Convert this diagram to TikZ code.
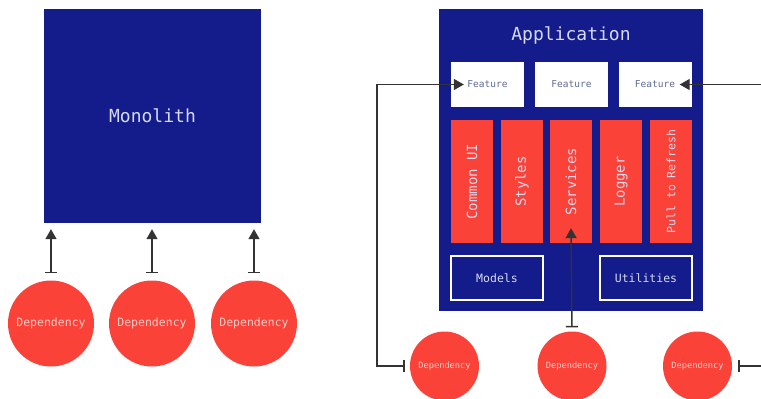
\documentclass[tikz,border=0pt]{standalone}
\usepackage{fontspec}
\setmonofont{DejaVu Sans Mono}
\usetikzlibrary{arrows.meta}
\definecolor{appblue}{RGB}{20,27,138}
\definecolor{deporange}{RGB}{250,66,56}
\definecolor{featuretext}{RGB}{95,105,150}
\definecolor{deptext}{RGB}{255,205,200}
\definecolor{boxtext}{RGB}{215,218,240}
\begin{document}
\begin{tikzpicture}[x=1pt, y=-1pt, every node/.append style={inner sep=0pt, font=\ttfamily},
		bigbox/.style={fill=appblue, text=boxtext, font=\ttfamily\fontsize{18}{20}\selectfont},
		feature/.style={fill=white, minimum width=73pt, minimum height=45pt, text=featuretext, font=\ttfamily\fontsize{9.5}{11}\selectfont},
		layer/.style={fill=deporange, rotate=90, minimum width=123pt, minimum height=42pt, text=boxtext, font=\ttfamily\fontsize{14}{16}\selectfont},
		basebox/.style={draw=white, line width=1.2pt, minimum width=92pt, minimum height=44pt, text=boxtext, font=\ttfamily\fontsize{11.5}{13}\selectfont},
		dep/.style={circle, fill=deporange, minimum size=86pt, text=deptext, font=\ttfamily\fontsize{11.5}{13}\selectfont},
		smalldep/.style={dep, minimum size=69pt, font=\ttfamily\fontsize{8.7}{10}\selectfont},
		depline/.style={line width=1.4pt, draw={black!80}, {Bar[width=12pt]}-{Triangle[width=11pt,length=10pt]}}]
	\useasboundingbox (0,0) rectangle (761,399);
	
	% monolith
	\node[bigbox, minimum width=217pt, minimum height=214pt] (mono) at (152.5,116) {Monolith};
	\node[dep] (d1) at (51,323.5) {Dependency};
	\node[dep] (d2) at (152,323.5) {Dependency};
	\node[dep] (d3) at (254,323.5) {Dependency};
	\foreach \d in {d1,d2,d3}
		\draw[depline, shorten <=7pt, shorten >=6pt] (\d.north) -- (\d.north |- mono.south);
	
	% application
	\node[fill=appblue, minimum width=264pt, minimum height=302pt] (app) at (571,160) {};
	\node[text=boxtext, font=\ttfamily\fontsize{18}{20}\selectfont] (apptitle) at (571,35) {Application};
	
	\node[feature] (f1) at (487.5,84.5) {Feature};
	\node[feature] (f2) at (571.5,84.5) {Feature};
	\node[feature] (f3) at (655,84.5) {Feature};
	
	\node[layer] (ui) at (472,181.5) {Common UI};
	\node[layer] (sty) at (522,181.5) {Styles};
	\node[layer] (srv) at (571,181.5) {Services};
	\node[layer] (log) at (621,181.5) {Logger};
	\node[layer, font=\ttfamily\fontsize{11.5}{13}\selectfont] (ptr) at (671,181.5) {Pull to Refresh};
	
	\node[basebox] (mod) at (497,278) {Models};
	\node[basebox] (util) at (646,278) {Utilities};
	
	\node[smalldep] (r1) at (444.5,366) {Dependency};
	\node[smalldep] (r2) at (572,366) {Dependency};
	\node[smalldep] (r3) at (697.5,366) {Dependency};
	
	\coordinate (lbend) at (377,84.5);
	\coordinate (rbend) at (762,84.5);
	\draw[depline, shorten <=5pt] (r1.west) -| (lbend) -- ([xshift=13pt]f1.west);
	\draw[depline, shorten <=4pt] (r2.north) -- ([yshift=15pt]srv.west);
	\draw[depline, shorten <=6pt] (r3.east) -| (rbend) -- ([xshift=-12pt]f3.east);
\end{tikzpicture}
\end{document}
